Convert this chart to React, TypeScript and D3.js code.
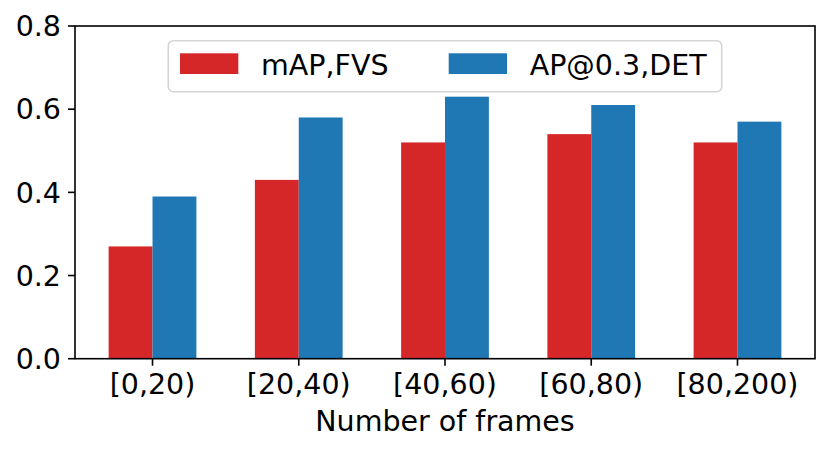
import React from "react";
import * as d3 from "d3";

const categories = ["[0,20)", "[20,40)", "[40,60)", "[60,80)", "[80,200)"];
const mapFVS = [0.27, 0.43, 0.52, 0.54, 0.52];
const apDET = [0.39, 0.58, 0.63, 0.61, 0.57];
const yTicks = [0.0, 0.2, 0.4, 0.6, 0.8];
const seriesNames = ["mAP,FVS", "AP@0.3,DET"];
const colors = ["#d62728", "#1f77b4"];

const W = 830;
const H = 453;
const left = 75;
const right = 815;
const top = 26;
const bottom = 358.7;
const barW = 0.3;
const FONT = "DejaVu Sans, sans-serif";
const FS = 28.5;

export default function App() {
  const x = d3.scaleLinear().domain([-0.53, categories.length - 1 + 0.53]).range([left, right]);
  const y = d3.scaleLinear().domain([0, 0.8]).range([bottom, top]);
  const series = [mapFVS, apDET];
  const offsets = [-barW / 2, barW / 2];

  return (
    <svg width={W} height={H} style={{ position: "absolute", left: 0, top: 0, background: "#fff" }} fontFamily={FONT}>
      <rect x={0} y={0} width={W} height={H} fill="#fff" />
      {series.map((vals, si) =>
        vals.map((v, i) => {
          const x0 = x(i + offsets[si] - barW / 2);
          const x1 = x(i + offsets[si] + barW / 2);
          return (
            <rect
              key={`${si}-${i}`}
              x={x0}
              y={y(v)}
              width={x1 - x0}
              height={y(0) - y(v)}
              fill={colors[si]}
            />
          );
        })
      )}
      {/* spines */}
      <rect x={left} y={top} width={right - left} height={bottom - top} fill="none" stroke="#000" strokeWidth={1.6} />
      {/* y ticks */}
      {yTicks.map((t) => (
        <g key={t}>
          <line x1={left - 7} x2={left} y1={y(t)} y2={y(t)} stroke="#000" strokeWidth={1.6} />
          <text x={left - 14} y={y(t)} dy="0.36em" textAnchor="end" fontSize={FS} fill="#000">
            {d3.format(".1f")(t)}
          </text>
        </g>
      ))}
      {/* x ticks */}
      {categories.map((c, i) => (
        <g key={c}>
          <line x1={x(i)} x2={x(i)} y1={bottom} y2={bottom + 7} stroke="#000" strokeWidth={1.6} />
          <text x={x(i)} y={bottom + 35} textAnchor="middle" fontSize={FS} fill="#000">
            {c}
          </text>
        </g>
      ))}
      <text x={(left + right) / 2} y={431} textAnchor="middle" fontSize={FS} fill="#000">
        Number of frames
      </text>
      {/* legend */}
      <rect x={168.3} y={40.7} width={553.4} height={51} rx={5} ry={5} fill="#fff" fillOpacity={0.8} stroke="#d5d5d5" strokeWidth={1.6} />
      {seriesNames.map((name, si) => {
        const hx = si === 0 ? 180 : 448.7;
        return (
          <g key={name}>
            <rect x={hx} y={53.3} width={58.3} height={20.7} fill={colors[si]} />
            <text x={hx + 81} y={74.5} fontSize={FS} fill="#000">
              {name}
            </text>
          </g>
        );
      })}
    </svg>
  );
}
